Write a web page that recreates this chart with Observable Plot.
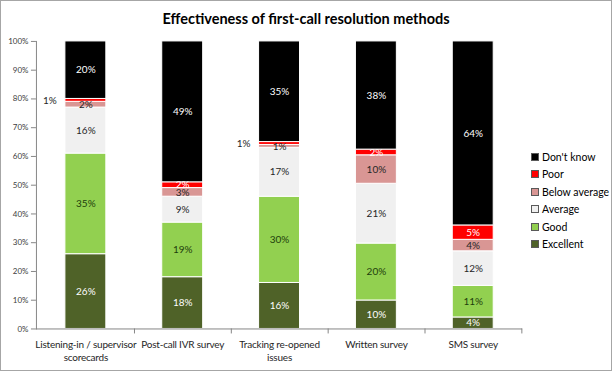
<!DOCTYPE html>
<html>
<head>
<meta charset="utf-8">
<script src="https://cdn.jsdelivr.net/npm/d3@7"></script>
<script src="https://cdn.jsdelivr.net/npm/@observablehq/plot@0.6"></script>
<style>
  html, body { margin: 0; padding: 0; background: #fff; }
  #wrap { position: relative; width: 612px; height: 371px; box-sizing: border-box; border: 1px solid #a6a6a6; overflow: hidden; font-family: Lato, "Open Sans", sans-serif; }
  #title { position: absolute; left: 0; width: 610px; top: 9px; text-align: center; font-size: 14.5px; font-weight: bold; color: #000; }
  #chart { position: absolute; left: -1px; top: -1px; }
  #legend { position: absolute; left: 530px; top: 147px; font-size: 10.5px; color: #000; }
  .li { height: 17.5px; display: flex; align-items: center; }
  .sw { width: 6px; height: 6px; border: 1px solid #595959; margin-right: 3px; }
</style>
</head>
<body>
<div id="wrap">
  <div id="title">Effectiveness of first-call resolution methods</div>
  <div id="chart"></div>
  <div id="legend"></div>
</div>
<script>
const categories = ["Listening-in / supervisor\nscorecards", "Post-call IVR survey", "Tracking re-opened\nissues", "Written survey", "SMS survey"];
const ratings = ["Excellent", "Good", "Average", "Below average", "Poor", "Don't know"];
const excellent = [26, 18, 16, 10, 4];
const good = [35, 19, 30, 20, 11];
const average = [16, 9, 17, 21, 12];
const belowAverage = [2, 3, 1, 10, 4];
const poor = [1, 2, 1, 2, 5];
const dontKnow = [20, 49, 35, 38, 64];
const colors = ["#4f6228", "#92d050", "#f0f0f0", "#d99694", "#ff0000", "#000000"];
const labelColors = ["#ffffff", "#1e3d0c", "#262626", "#262626", "#ffffff", "#ffffff"];
// which Poor labels sit outside the bar (to the left)
const poorLabelOutside = [true, false, true, false, false];

const series = [excellent, good, average, belowAverage, poor, dontKnow];
const rows = [];
categories.forEach((c, i) => {
  ratings.forEach((r, j) => {
    rows.push({category: c, rating: r, value: series[j][i],
      outside: r === "Poor" && poorLabelOutside[i]});
  });
});

const stackOpts = {x: "category", y: "value", z: "rating", order: ratings, offset: "normalize"};

const labelMarks = ratings.map((r, j) => Plot.text(rows, Plot.stackY({
  ...stackOpts,
  text: d => (d.rating === r && !d.outside) ? d.value + "%" : "",
  fill: labelColors[j],
  fontSize: 10
})));

const chart = Plot.plot({
  width: 612,
  height: 371,
  marginTop: 41,
  marginBottom: 42,
  marginLeft: 36,
  marginRight: 90,
  style: {fontFamily: "Lato, 'Open Sans', sans-serif", background: "transparent", color: "#000"},
  x: {domain: categories, paddingInner: 0.58, paddingOuter: 0.29, label: null},
  y: {domain: [0, 1], label: null},
  color: {domain: ratings, range: colors},
  marks: [
    Plot.barY(rows, Plot.stackY({...stackOpts, fill: "rating", stroke: "#ffffff", strokeWidth: 1})),
    ...labelMarks,
    Plot.text(rows, Plot.stackY({
      ...stackOpts,
      text: d => d.outside ? d.value + "%" : "",
      fill: "#262626",
      fontSize: 10,
      dx: -36
    })),
    Plot.frame({anchor: "left", stroke: "#868686"}),
    Plot.frame({anchor: "bottom", stroke: "#868686"}),
    Plot.axisY({ticks: d3.range(0, 11).map(v => v / 10), tickFormat: d3.format(".0%"), tickSize: 5, tickPadding: 3, fontSize: 8, stroke: "#868686", color: "#404040"}),
    Plot.axisX({tickSize: 5, tickFormat: () => "", dx: 48.7, stroke: "#868686"}),
    Plot.axisX({tickSize: 0, tickPadding: 9, fontSize: 10, lineHeight: 1.35, color: "#262626"})
  ]
});
d3.select(chart).selectAll('g[aria-label="x-axis tick label"]').style("letter-spacing", "-0.2px");
document.getElementById("chart").appendChild(chart);

const legend = document.getElementById("legend");
ratings.slice().reverse().forEach(r => {
  const j = ratings.indexOf(r);
  const li = document.createElement("div");
  li.className = "li";
  const sw = document.createElement("span");
  sw.className = "sw";
  sw.style.background = colors[j];
  li.appendChild(sw);
  li.appendChild(document.createTextNode(r));
  legend.appendChild(li);
});
</script>
</body>
</html>
